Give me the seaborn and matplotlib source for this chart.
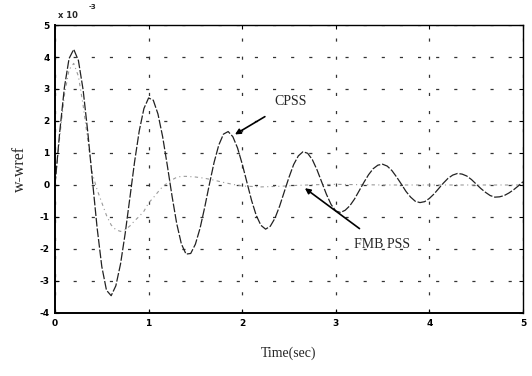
import numpy as np
import pandas as pd
import matplotlib
matplotlib.use("Agg")
import matplotlib.pyplot as plt
import seaborn as sns

# ---- data (values in units of 1e-3) ----
cpss_time = np.round(np.arange(0, 5.001, 0.05), 2)
cpss_value = [
    0.00, 1.65, 3.04, 3.95, 4.24, 3.89, 2.98, 1.66, 0.14, -1.34,
    -2.55, -3.29, -3.46, -3.15, -2.47, -1.51, -0.40, 0.72, 1.69, 2.39,
    2.72, 2.65, 2.22, 1.51, 0.61, -0.34, -1.20, -1.84, -2.16, -2.14,
    -1.85, -1.35, -0.69, 0.03, 0.71, 1.25, 1.59, 1.67, 1.51, 1.16,
    0.66, 0.09, -0.48, -0.95, -1.26, -1.38, -1.29, -1.04, -0.66, -0.21,
    0.24, 0.64, 0.91, 1.04, 0.99, 0.79, 0.47, 0.09, -0.29, -0.61,
    -0.81, -0.86, -0.79, -0.65, -0.44, -0.18, 0.08, 0.32, 0.51, 0.62,
    0.65, 0.59, 0.45, 0.25, 0.03, -0.20, -0.38, -0.51, -0.55, -0.52,
    -0.42, -0.28, -0.11, 0.06, 0.21, 0.31, 0.36, 0.34, 0.28, 0.17,
    0.03, -0.11, -0.23, -0.33, -0.38, -0.37, -0.33, -0.25, -0.15, -0.03,
    0.10,
]

fmb_time = [0.0, 0.05, 0.1, 0.15, 0.2, 0.25, 0.3, 0.35, 0.4, 0.45, 0.5, 0.55,
            0.6, 0.65, 0.7, 0.75, 0.8, 0.85, 0.9, 0.95, 1.0, 1.05, 1.1, 1.15,
            1.2, 1.25, 1.3, 1.35, 1.4, 1.5, 1.6, 1.7, 1.8, 1.9, 2.0, 2.2,
            2.4, 2.6, 2.8, 3.0, 3.5, 4.0, 4.5, 5.0]
fmb_value = [0.0, 1.5, 2.8, 3.6, 3.8, 3.4, 2.5, 1.4, 0.35, -0.15, -0.55, -0.95,
             -1.25, -1.40, -1.45, -1.40, -1.28, -1.12, -0.98, -0.82, -0.56, -0.40,
             -0.22, -0.05, 0.06, 0.16, 0.24, 0.27, 0.27, 0.25, 0.21, 0.15, 0.08,
             0.02, -0.03, -0.06, -0.04, -0.01, 0.01, 0.02, 0.0, 0.0, 0.0, 0.0]

x_ticks = [0, 1, 2, 3, 4, 5]
y_ticks = [-4, -3, -2, -1, 0, 1, 2, 3, 4, 5]

sns.set_theme(style="white")
plt.rcParams["axes.unicode_minus"] = False
plt.rcParams["font.family"] = ["DejaVu Sans"]

fig = plt.figure(figsize=(5.32, 3.76), dpi=100)
ax = fig.add_axes([0.1034, 0.1676, 0.8796, 0.7659])

df_c = pd.DataFrame({"t": cpss_time, "w": cpss_value})
df_f = pd.DataFrame({"t": fmb_time, "w": fmb_value})

sns.lineplot(data=df_f, x="t", y="w", ax=ax, color="#9a9a9a", lw=0.8,
             linestyle=(0, (3, 3, 1, 3)))
sns.lineplot(data=df_c, x="t", y="w", ax=ax, color="#222222", lw=0.9,
             linestyle=(0, (7, 1.5)))

ax.set_xlim(0, 5)
ax.set_ylim(-4, 5)
ax.set_xticks(x_ticks)
ax.set_yticks(y_ticks)
ax.set_xticklabels([str(v) for v in x_ticks], fontsize=6.5, fontweight="bold")
ax.set_yticklabels([str(v) for v in y_ticks], fontsize=6.5, fontweight="bold")
ax.tick_params(direction="in", length=3, width=0.8, top=True, right=True,
               bottom=True, left=True, pad=4, colors="black")
ax.grid(True, color="#333333", linestyle=(0, (2.5, 12)), linewidth=0.9)
for s in ax.spines.values():
    s.set_color("black")
    s.set_linewidth(1.0)
ax.spines["left"].set_linewidth(1.4)
ax.spines["bottom"].set_linewidth(1.4)

ax.set_xlabel("Time(sec)", family="Liberation Serif", fontsize=10, labelpad=14)
ax.set_ylabel("w-wref", family="Liberation Serif", fontsize=11.5, labelpad=8)

fig.text(0.109, 0.953, "x 10", fontsize=6, fontweight="bold")
fig.text(0.166, 0.975, "-3", fontsize=5, fontweight="bold")

ax.annotate("CPSS", xy=(1.923, 1.58), xytext=(2.52, 2.62),
            fontsize=10, family="Liberation Serif", ha="center", va="center",
            arrowprops=dict(arrowstyle="-|>", color="black", lw=1.2,
                            shrinkA=8, shrinkB=0, mutation_scale=8))
ax.annotate("FMB PSS", xy=(2.67, -0.10), xytext=(3.49, -1.875),
            fontsize=10, family="Liberation Serif", ha="center", va="center",
            arrowprops=dict(arrowstyle="-|>", color="black", lw=1.2,
                            shrinkA=8, shrinkB=0, mutation_scale=8))

fig.savefig("out.png", dpi=100)
